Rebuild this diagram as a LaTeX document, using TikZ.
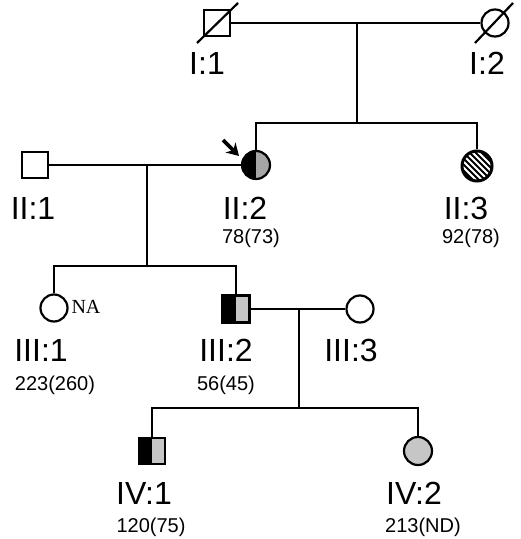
\documentclass[tikz,border=0pt]{standalone}
\usepackage{fontspec}
\setmainfont{Liberation Sans}
\newfontfamily\notefont{Liberation Serif}
\usepackage{xcolor}
\usetikzlibrary{arrows.meta, calc}
\definecolor{carrier}{HTML}{A6A6A6}
\definecolor{lightaff}{HTML}{C6C6C6}

\begin{document}
\begin{tikzpicture}[
  x=0.5pt, y=-0.5pt,
  male/.style={rectangle, draw, line width=1.1pt, minimum size=13pt, inner sep=0pt, fill=white},
  female/.style={circle, draw, line width=1.1pt, minimum size=13.5pt, inner sep=0pt, fill=white},
  halfmale/.style={male, path picture={
      \fill[black] (path picture bounding box.south west) rectangle (path picture bounding box.north);
      \fill[lightaff] (path picture bounding box.south) rectangle (path picture bounding box.north east);}},
  halffemale/.style={female, minimum size=14pt, path picture={
      \fill[black] (path picture bounding box.south west) rectangle (path picture bounding box.north);
      \fill[carrier] (path picture bounding box.south) rectangle (path picture bounding box.north east);}},
  hatchfemale/.style={female, minimum size=15pt, line width=1.5pt, path picture={
      \foreach \k in {-10.5,-9,...,10.5}
        \draw[line width=0.9pt] ([shift={(\k pt-11pt,\k pt+11pt)}]path picture bounding box.center) -- ++(22pt,-22pt);}},
  link/.style={line width=1.1pt},
  slashline/.style={line width=1.1pt},
  proband/.style={-{Stealth[length=6pt, width=7pt]}, line width=1.9pt},
  idlabel/.style={font=\fontsize{16}{16}\selectfont, inner sep=0pt},
  vallabel/.style={font=\fontsize{10}{10}\selectfont, inner sep=0pt},
  notelabel/.style={font=\notefont\fontsize{10}{10}\selectfont, inner sep=0pt},
]
  \useasboundingbox (0,0) rectangle (520,539);

  % generation I
  \node[male] (i1) at (217,23) {};
  \node[female] (i2) at (495,23) {};
  \node[idlabel] (i1lab) at (207,63) {I:1};
  \node[idlabel] (i2lab) at (487,63) {I:2};

  % generation II
  \node[male] (ii1) at (35,165) {};
  \node[halffemale] (ii2) at (256,165) {};
  \node[hatchfemale] (ii3) at (477,166) {};
  \node[idlabel] (ii1lab) at (33,208) {II:1};
  \node[idlabel] (ii2lab) at (245,208) {II:2};
  \node[idlabel] (ii3lab) at (466,208) {II:3};
  \node[vallabel] (ii2val) at (251,238) {78(73)};
  \node[vallabel] (ii3val) at (471,238) {92(78)};

  % generation III
  \node[female] (iii1) at (54,308) {};
  \node[halfmale, minimum size=13.5pt] (iii2) at (236,309) {};
  \node[female] (iii3) at (360,309) {};
  \node[notelabel] (iii1note) at (86,307) {NA};
  \node[idlabel] (iii1lab) at (41,350) {III:1};
  \node[idlabel] (iii2lab) at (226,350) {III:2};
  \node[idlabel] (iii3lab) at (351,350) {III:3};
  \node[vallabel] (iii1val) at (55,385) {223(260)};
  \node[vallabel] (iii2val) at (226,385) {56(45)};

  % generation IV
  \node[halfmale] (iv1) at (152,451) {};
  \node[female, fill=lightaff, minimum size=14pt] (iv2) at (418,451) {};
  \node[idlabel] (iv1lab) at (144,493) {IV:1};
  \node[idlabel] (iv2lab) at (414,493) {IV:2};
  \node[vallabel] (iv1val) at (151,527) {120(75)};
  \node[vallabel] (iv2val) at (423,527) {213(ND)};

  % couples and sibships
  \coordinate (m1) at (357,23);
  \coordinate (s1) at (357,123);
  \draw[link] (i1.east) -- (i2.west);
  \draw[link] (m1) -- (s1);
  \draw[link] (ii2.north) |- (s1) -| (ii3.north);

  \coordinate (m2) at (147,165);
  \coordinate (s2) at (147,266);
  \draw[link] (ii1.east) -- (ii2.west);
  \draw[link] (m2) -- (s2);
  \draw[link] (iii1.north) |- (s2) -| (iii2.north);

  \coordinate (m3) at (299,309);
  \coordinate (s3) at (299,408);
  \draw[link] (iii2.east) -- (iii3.west);
  \draw[link] (m3) -- (s3);
  \draw[link] (iv1.north) |- (s3) -| (iv2.north);

  % deceased
  \draw[slashline] ($(i1)+(-20,20)$) -- ($(i1)+(21,-20)$);
  \draw[slashline] ($(i2)+(-20,20)$) -- ($(i2)+(18,-20)$);

  % proband
  \coordinate (arrtail) at ($(ii2)+(-33,-25)$);
  \coordinate (arrhead) at ($(ii2)+(-17,-9)$);
  \draw[proband] (arrtail) -- (arrhead);
\end{tikzpicture}
\end{document}
